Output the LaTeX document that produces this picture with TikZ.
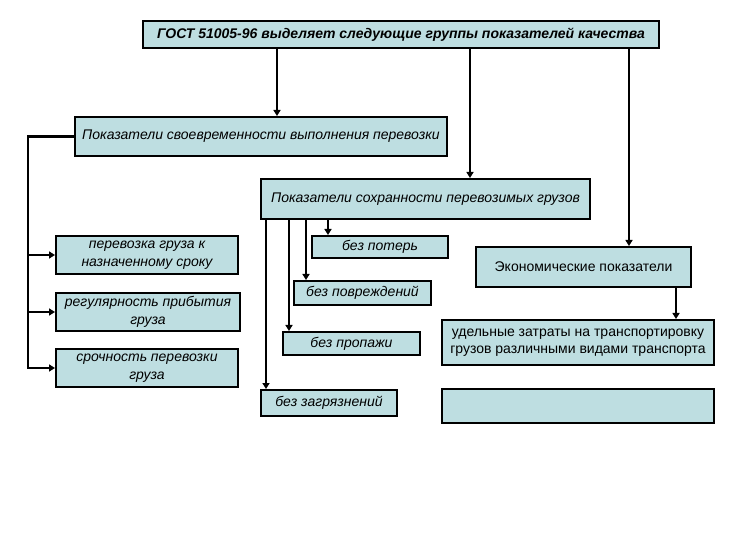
\documentclass[tikz,border=0pt]{standalone}
\usepackage{fontspec}
\setmainfont{Liberation Sans}
\usetikzlibrary{arrows.meta}
\definecolor{boxfill}{RGB}{190,222,225}
\tikzset{
  box/.style={draw=black, line width=2pt, fill=boxfill, inner sep=1pt, align=center,
    font=\fontsize{14}{18}\selectfont\itshape},
  uprbox/.style={box, font=\fontsize{14}{16.5}\selectfont},
  conn/.style={line width=2.6pt, -{Triangle[length=6pt,width=7pt]}}
}
\begin{document}
\begin{tikzpicture}[x=1pt,y=-1pt]
\useasboundingbox[fill=white] (0,0) rectangle (737,540);
\node[box, minimum width=516pt, minimum height=27pt, font=\fontsize{14}{15}\selectfont\bfseries\itshape] (top) at (401,34.5) {ГОСТ 51005-96 выделяет следующие группы показателей качества};
\node[box, minimum width=372pt, minimum height=39pt] (b1) at (261,136.5) {Показатели своевременности выполнения перевозки};
\node[box, minimum width=329pt, minimum height=40pt] (b2) at (425.5,199) {Показатели сохранности перевозимых грузов};
\node[uprbox, minimum width=215pt, minimum height=40pt] (econ) at (583.5,267) {Экономические показатели};
\node[uprbox, minimum width=272pt, minimum height=45pt] (ud) at (578,342.5) {удельные затраты на транспортировку\\грузов различными видами транспорта};
\node[uprbox, minimum width=272pt, minimum height=34pt] (empty) at (578,406) {};
\node[box, minimum width=182pt, minimum height=38pt] (A) at (147,255) {перевозка груза к\\назначенному сроку};
\node[box, minimum width=184pt, minimum height=38pt] (B) at (148,312) {регулярность прибытия\\груза};
\node[box, minimum width=182pt, minimum height=38pt] (C) at (147,368) {срочность перевозки\\груза};
\node[box, minimum width=136pt, minimum height=22pt] (p1) at (380,247) {без потерь};
\node[box, minimum width=137pt, minimum height=24pt] (p2) at (362.5,293) {без повреждений};
\node[box, minimum width=137pt, minimum height=23pt] (p3) at (351.5,343.5) {без пропажи};
\node[box, minimum width=136pt, minimum height=26pt] (p4) at (329,403) {без загрязнений};
\coordinate (x1) at (277,0);
\coordinate (x2) at (470,0);
\coordinate (x3) at (629,0);
\coordinate (x4) at (676,0);
\coordinate (lx) at (28,0);
\coordinate (q1) at (328,0);
\coordinate (q2) at (306,0);
\coordinate (q3) at (289,0);
\coordinate (q4) at (266,0);
\draw[conn] (top.south -| x1) -- (b1.north -| x1);
\draw[conn] (top.south -| x2) -- (b2.north -| x2);
\draw[conn] (top.south -| x3) -- (econ.north -| x3);
\draw[conn] (econ.south -| x4) -- (ud.north -| x4);
\draw[conn] (b1.west) -| (lx |- C.west) -- (C.west);
\draw[conn] (lx |- A.west) -- (A.west);
\draw[conn] (lx |- B.west) -- (B.west);
\draw[conn] (b2.south -| q1) -- (p1.north -| q1);
\draw[conn] (b2.south -| q2) -- (p2.north -| q2);
\draw[conn] (b2.south -| q3) -- (p3.north -| q3);
\draw[conn] (b2.south -| q4) -- (p4.north -| q4);
\end{tikzpicture}
\end{document}
